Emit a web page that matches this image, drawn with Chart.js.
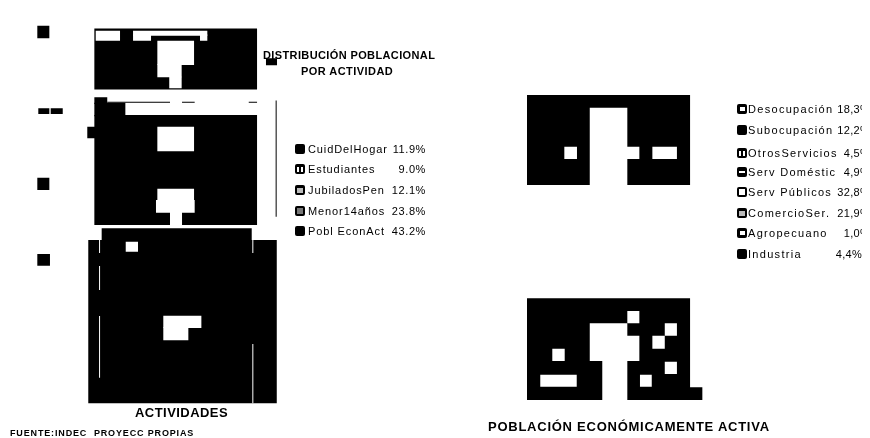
<!DOCTYPE html>
<html lang="es">
<head>
  <meta charset="UTF-8">
  <title>Distribución poblacional por actividad</title>
  <script src="https://cdn.jsdelivr.net/npm/chart.js"></script>
  <style>
    body { margin: 0; background: #fff; color: #000; font-family: 'Liberation Sans', sans-serif; overflow: hidden; }
    #sheet { position: relative; width: 870px; height: 438px; overflow: hidden; }
    canvas { position: absolute; left: 0; top: 0; }
    .cap { position: absolute; font-weight: bold; white-space: nowrap; line-height: 1; }
    .row { position: absolute; height: 14px; font-size: 11px; line-height: 14px; white-space: nowrap; }
    .row i { position: absolute; left: 0; top: 2px; width: 10px; height: 10px; border-radius: 2px; background-color: #000; background-repeat: no-repeat; background-position: center; }
    .row b { position: absolute; font-weight: normal; }
    .row span { position: absolute; }
    #clip { position: absolute; left: 730px; top: 95px; width: 132px; height: 175px; overflow: hidden; }
    .solid { }
    .hollow { background-image: linear-gradient(#fff, #fff); background-size: 6px 6px; }
    .thick { background-image: linear-gradient(#fff, #fff); background-size: 5px 4px; }
    .bars { background-image: linear-gradient(90deg, #fff 40%, #000 40%, #000 60%, #fff 60%); background-size: 6px 5px; }
    .slot { background-image: linear-gradient(#fff, #fff); background-size: 6px 2px; }
    .grid { background-image: linear-gradient(#bbb, #bbb); background-size: 6px 5px; }
    .speck { background-image: linear-gradient(#777, #777); background-size: 6px 6px; }
  </style>
</head>
<body>
  <div id="sheet">
    <canvas id="blocks" width="870" height="438"></canvas>
    <div class="cap" style="left:263px;top:50px;font-size:11px;letter-spacing:.38px">DISTRIBUCIÓN POBLACIONAL</div>
    <div class="cap" style="left:301px;top:66px;font-size:11px;letter-spacing:.45px">POR ACTIVIDAD</div>
    <div class="cap" style="left:135px;top:406px;font-size:13px;letter-spacing:.45px">ACTIVIDADES</div>
    <div class="cap" style="left:10px;top:429px;font-size:9px;letter-spacing:.85px">FUENTE:INDEC &nbsp;PROYECC PROPIAS</div>
    <div class="cap" style="left:488px;top:420px;font-size:13px;letter-spacing:.75px">POBLACIÓN ECONÓMICAMENTE ACTIVA</div>
    <div id="clip"></div>
  </div>

  <script>
    // Legend tables
    const activityLabels = ['CuidDelHogar', 'Estudiantes', 'JubiladosPen', 'Menor14años', 'Pobl EconAct'];
    const activityValues = [11.9, 9.0, 12.1, 23.8, 43.2];
    const activitySwatches = ['solid', 'bars', 'grid', 'speck', 'solid'];

    const sectorLabels = ['Desocupación', 'Subocupación', 'OtrosServicios', 'Serv Doméstic', 'Serv Públicos', 'ComercioSer.', 'Agropecuano', 'Industria'];
    const sectorValues = [18.3, 12.2, 4.5, 4.9, 32.8, 21.9, 1.0, 4.4];
    const sectorSwatches = ['thick', 'solid', 'bars', 'slot', 'hollow', 'grid', 'thick', 'solid'];

    // Scan cells as [colFrom, rowFrom, colTo, rowTo], in grid cells of the sheet
    const strayMarks = [
      [2.42, 1.79, 3.39, 2.81], [2.5, 8.45, 3.39, 8.91], [3.5, 8.45, 4.47, 8.91],
      [2.42, 14.05, 3.39, 15.04], [2.42, 20.2, 3.44, 21.15], [20.86, 4.42, 21.75, 4.98],
      [6.45, 9.94, 7.1, 10.87], [21.64, 7.82, 21.72, 17.19]
    ];
    const activityInk = [
      [7.02, 2.02, 20.14, 6.94],
      [7.02, 7.56, 8.06, 8.1], [7.02, 8.0, 9.52, 9.1], [7.02, 8.99, 20.14, 17.86],
      [8.06, 7.92, 13.12, 8.0], [14.09, 7.92, 15.11, 8.0], [19.47, 7.92, 20.14, 8.0],
      [7.61, 18.13, 19.71, 19.2], [6.53, 19.07, 21.73, 32.24]
    ];
    const activityGaps = [
      [7.13, 2.19, 9.09, 3.0], [10.14, 2.19, 16.13, 2.6], [10.14, 2.5, 11.59, 3.0], [15.54, 2.5, 16.13, 3.0],
      [12.1, 3.0, 15.06, 4.96], [12.1, 4.9, 14.06, 5.95], [13.06, 5.9, 14.06, 6.84],
      [12.1, 9.94, 15.06, 11.92],
      [12.1, 14.94, 15.06, 15.9], [11.99, 15.85, 15.11, 16.87], [13.12, 16.8, 14.09, 17.86],
      [9.55, 19.21, 10.54, 20.02],
      [12.58, 25.18, 15.65, 26.17], [12.58, 26.1, 14.6, 27.16],
      [7.4, 19.07, 7.48, 20.12], [7.4, 21.17, 7.48, 23.1], [7.4, 25.2, 7.48, 30.18],
      [19.76, 19.07, 19.84, 20.12], [19.76, 27.46, 19.84, 32.24]
    ];
    const sectorInk = [[41.91, 7.38, 55.06, 14.64]];
    const sectorGaps = [
      [46.97, 8.4, 50.0, 14.64], [49.9, 11.55, 50.97, 12.54],
      [44.92, 11.55, 45.94, 12.54], [52.02, 11.55, 54.0, 12.54]
    ];
    const econInk = [[41.91, 23.77, 55.06, 31.98], [55.0, 30.95, 56.05, 31.98]];
    const econGaps = [
      [50.0, 24.8, 50.97, 25.79], [46.97, 25.79, 50.0, 28.83], [49.9, 26.79, 50.97, 28.83],
      [47.98, 28.75, 50.0, 31.98], [53.02, 25.79, 54.0, 26.79], [52.02, 26.79, 53.02, 27.84],
      [43.95, 27.84, 44.95, 28.83], [53.02, 28.89, 54.0, 29.88], [51.02, 29.94, 51.97, 30.9],
      [42.98, 29.94, 45.92, 30.9]
    ];

    const inkCells = [...strayMarks, ...activityInk, ...sectorInk, ...econInk];
    const gapCells = [...activityGaps, ...sectorGaps, ...econGaps];

    function cellShape(cell, colour, order) {
      const [c0, r0, c1, r1] = cell;
      return {
        data: [{x: c0, y: r0}, {x: c1, y: r0}, {x: c1, y: r1}, {x: c0, y: r1}, {x: c0, y: r0}],
        showLine: true,
        fill: 'shape',
        tension: 0,
        borderWidth: 0,
        pointRadius: 0,
        backgroundColor: colour,
        order: order
      };
    }

    new Chart(document.getElementById('blocks'), {
      type: 'scatter',
      data: {
        datasets: [
          ...gapCells.map(c => cellShape(c, '#fff', 0)),
          ...inkCells.map(c => cellShape(c, '#000', 1))
        ]
      },
      options: {
        responsive: false,
        animation: false,
        layout: { padding: 0 },
        plugins: { legend: { display: false }, tooltip: { enabled: false } },
        scales: {
          x: { type: 'linear', display: false, min: -0.589, max: 69.57 },
          y: { type: 'linear', display: false, reverse: true, min: -0.282, max: 35.04 }
        }
      }
    });

    // Legends
    const sheet = document.getElementById('sheet');
    function addRow(parent, left, top, swatch, label, textLeft, labelSpacing, value, valueRight, valueSpacing) {
      const row = document.createElement('div');
      row.className = 'row';
      row.style.left = left + 'px';
      row.style.top = top + 'px';
      row.style.width = '180px';
      row.innerHTML = `<i class="${swatch}"></i><span style="left:${textLeft}px;letter-spacing:${labelSpacing}px">${label}</span>` +
        `<b style="right:${180 - valueRight}px;letter-spacing:${valueSpacing}px">${value}</b>`;
      parent.appendChild(row);
    }

    const activityRows = [142, 162, 183, 204, 224];
    activityLabels.forEach((label, i) => {
      addRow(sheet, 295, activityRows[i], activitySwatches[i], label, 13, 0.9,
        activityValues[i].toFixed(1) + '%', 131, 0.6);
    });

    const sectorRows = [7, 28, 51, 70, 90, 111, 131, 152];
    const clip = document.getElementById('clip');
    sectorLabels.forEach((label, i) => {
      const last = i === sectorLabels.length - 1;
      addRow(clip, 7, sectorRows[i], sectorSwatches[i], label, 11, 1.3,
        sectorValues[i].toFixed(1).replace('.', ',') + '%', last ? 125 : 133, 0.3);
    });
  </script>
</body>
</html>
